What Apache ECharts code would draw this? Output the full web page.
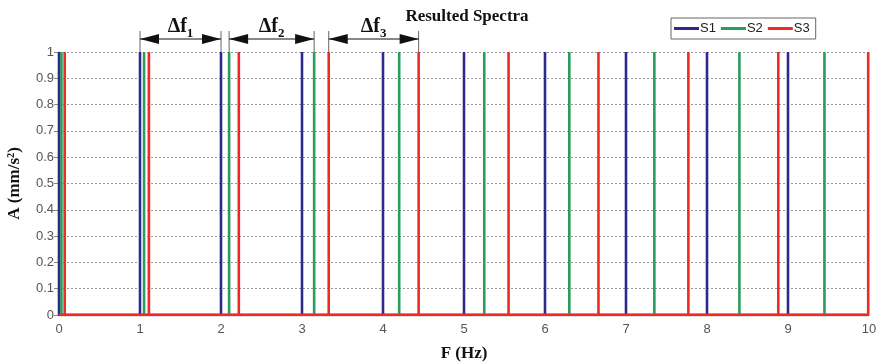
<!DOCTYPE html>
<html>
<head>
<meta charset="utf-8">
<script src="https://cdn.jsdelivr.net/npm/echarts@6/dist/echarts.min.js"></script>
<style>
  html, body { margin: 0; padding: 0; background: #fff; }
  #chart { width: 878px; height: 364px; }
</style>
</head>
<body>
<div id="chart"></div>
<script>
// spectral line frequencies (Hz) and amplitudes
const s1Freq = [0, 1, 2, 3, 4, 5, 6, 7, 8, 9];
const s2Freq = [0.03, 1.05, 2.1, 3.15, 4.2, 5.25, 6.3, 7.35, 8.4, 9.45];
const s3Freq = [0.07, 1.11, 2.22, 3.33, 4.44, 5.55, 6.66, 7.77, 8.88, 9.99];
const s1Amp = [1, 1, 1, 1, 1, 1, 1, 1, 1, 1];
const s2Amp = [1, 1, 1, 1, 1, 1, 1, 1, 1, 1];
const s3Amp = [1, 1, 1, 1, 1, 1, 1, 1, 1, 1];

const seriesNames = ["S1", "S2", "S3"];
const seriesColors = ["#2E2A8C", "#2A9D5C", "#EE2A24"];

// delta-f spans marked above the plot
const deltaSpans = [[1, 2], [2.1, 3.15], [3.33, 4.44]];
const deltaSubs = ["1", "2", "3"];

const X_MAX = 10;

// stem plot: baseline at 0 with a vertical spike at each frequency
function stems(freqs, amps) {
  const pts = [[0, 0]];
  freqs.forEach((f, i) => {
    pts.push([f, 0], [f, amps[i]], [f, 0]);
  });
  pts.push([X_MAX, 0]);
  return pts;
}

const chart = echarts.init(document.getElementById("chart"));

const allData = [stems(s1Freq, s1Amp), stems(s2Freq, s2Amp), stems(s3Freq, s3Amp)];

chart.setOption({
  animation: false,
  title: {
    text: "Resulted Spectra",
    left: 462,
    textAlign: "center",
    top: 3,
    textStyle: { fontFamily: "Liberation Serif", fontWeight: "bold", fontSize: 17, color: "#111" },
  },
  legend: {
    data: seriesNames,
    left: 671,
    top: 18,
    padding: [4, 6, 4, 3],
    itemGap: 5,
    itemWidth: 25,
    itemHeight: 3,
    icon: "rect",
    borderColor: "#666",
    borderWidth: 1,
    textStyle: { fontFamily: "Liberation Sans", fontSize: 13, color: "#222", padding: [0, 0, 0, -4] },
  },
  grid: { left: 59, right: 9, top: 52, bottom: 49, outerBoundsMode: "none" },
  xAxis: {
    type: "value",
    min: 0,
    max: X_MAX,
    interval: 1,
    name: "F (Hz)",
    nameLocation: "middle",
    nameGap: 30,
    nameTextStyle: { fontFamily: "Liberation Serif", fontWeight: "bold", fontSize: 17, color: "#111" },
    axisLine: { lineStyle: { color: "#888" } },
    axisTick: { show: false },
    splitLine: { show: false },
    axisLabel: { fontFamily: "Liberation Sans", fontSize: 13, color: "#555", margin: 8 },
  },
  yAxis: {
    type: "value",
    min: 0,
    max: 1,
    interval: 0.1,
    name: "A (mm/s²)",
    nameLocation: "middle",
    nameGap: 36,
    nameTextStyle: { fontFamily: "Liberation Serif", fontWeight: "bold", fontSize: 17, color: "#111" },
    axisLine: { show: true, lineStyle: { color: "#888" } },
    axisTick: { show: true, length: 5, lineStyle: { color: "#888" } },
    splitLine: { lineStyle: { color: "#999", type: [2, 2], width: 1 } },
    axisLabel: { fontFamily: "Liberation Sans", fontSize: 13, color: "#555", margin: 5 },
  },
  series: seriesNames.map((name, i) => ({
    name,
    type: "line",
    data: allData[i],
    showSymbol: false,
    symbol: "none",
    color: seriesColors[i],
    lineStyle: { width: 2.6, color: seriesColors[i] },
    z: 2 + i,
  })),
});

// delta-f arrows above the plot, placed through the axis scales
function drawSpans() {
  const elements = [];
  deltaSpans.forEach(([a, b], i) => {
    const p1 = chart.convertToPixel({ xAxisIndex: 0, yAxisIndex: 0 }, [a, 1]);
    const p2 = chart.convertToPixel({ xAxisIndex: 0, yAxisIndex: 0 }, [b, 1]);
    const x1 = p1[0], x2 = p2[0], top = p1[1];
    const ay = top - 13;
    const tickStyle = { stroke: "#666", lineWidth: 1 };
    elements.push(
      { type: "line", shape: { x1, y1: top - 21, x2: x1, y2: top }, style: tickStyle },
      { type: "line", shape: { x1: x2, y1: top - 21, x2, y2: top }, style: tickStyle },
      { type: "line", shape: { x1, y1: ay, x2, y2: ay }, style: { stroke: "#111", lineWidth: 1.2 } },
      { type: "polygon", shape: { points: [[x1, ay], [x1 + 19, ay - 5], [x1 + 19, ay + 5]] }, style: { fill: "#111" } },
      { type: "polygon", shape: { points: [[x2, ay], [x2 - 19, ay - 5], [x2 - 19, ay + 5]] }, style: { fill: "#111" } },
      {
        type: "text",
        x: (x1 + x2) / 2,
        y: ay - 2,
        style: {
          text: "{m|Δf}{s|" + deltaSubs[i] + "}",
          align: "center",
          verticalAlign: "bottom",
          rich: {
            m: { fontFamily: "Liberation Serif", fontWeight: "bold", fontSize: 20, fill: "#111" },
            s: { fontFamily: "Liberation Serif", fontWeight: "bold", fontSize: 13, fill: "#111", verticalAlign: "bottom", padding: [0, 0, -3, 0] },
          },
        },
      }
    );
  });
  chart.setOption({ graphic: elements });
}
drawSpans();
</script>
</body>
</html>
